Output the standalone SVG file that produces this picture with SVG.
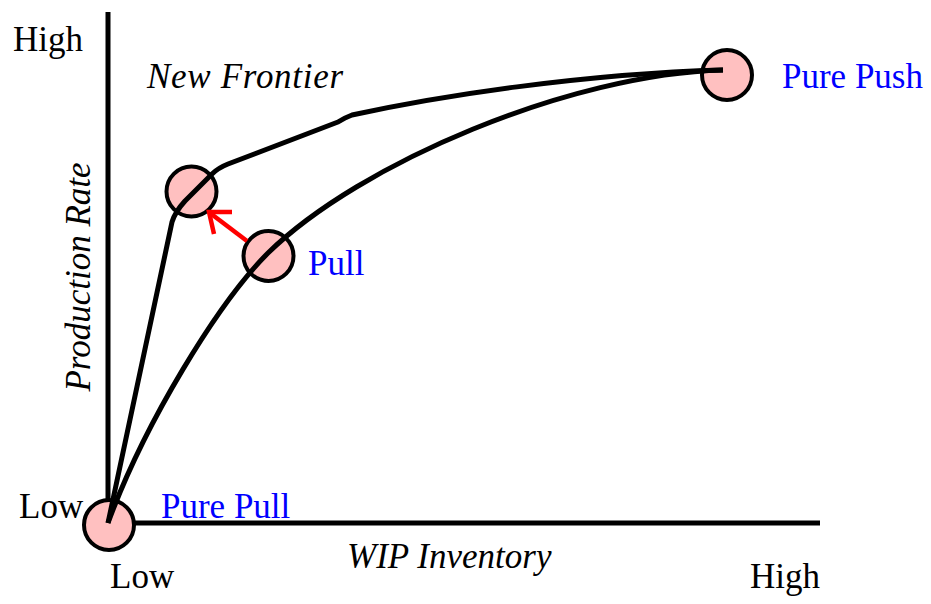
<svg xmlns="http://www.w3.org/2000/svg" width="931" height="604" viewBox="0 0 931 604">
<style>
.t{font-family:"Liberation Serif","Times New Roman",serif;font-size:35px;fill:#000}
.i{font-style:italic}
.b{fill:#0000ff}
.n{fill:#ffc0c0;stroke:#000;stroke-width:4}
.c{fill:none;stroke:#000;stroke-width:5;stroke-linejoin:round}
.ax{fill:none;stroke:#000;stroke-width:5}
</style>
<rect width="931" height="604" fill="#fff"/>
<g id="axes">
<line class="ax" x1="108" y1="12" x2="108" y2="525"/>
<line class="ax" x1="106" y1="523" x2="820" y2="523"/>
</g>
<g id="node-pure-pull"><circle class="n" cx="109" cy="525" r="25"/></g>
<g id="node-frontier"><circle class="n" cx="191.5" cy="191.5" r="25"/></g>
<g id="node-pull"><circle class="n" cx="268.5" cy="256" r="25"/></g>
<g id="node-pure-push"><circle class="n" cx="727" cy="75" r="25"/></g>
<g id="connectors">
<path class="c" d="M108,523 C144,424 218,303 268,253 C360,163 570,74 723,70"/>
<path class="c" d="M108,523 L172,222 Q175,212 185,201 L212,174 Q218,168 228,164 L338,122 Q344,118 352,115 C440,96 580,74 723,70"/>
<g fill="none" stroke="#ff0000" stroke-width="4.5">
<line x1="247" y1="241" x2="210" y2="213"/>
<polyline points="232,212 209,212 214,234"/>
</g>
</g>
<g id="labels">
<text class="t" x="13" y="51">High</text>
<text class="t i" x="147" y="88" textLength="196">New Frontier</text>
<text class="t i" transform="translate(90,277) rotate(-90)" text-anchor="middle">Production Rate</text>
<text class="t b" x="308" y="275">Pull</text>
<text class="t b" x="782" y="88">Pure Push</text>
<text class="t b" x="161" y="518">Pure Pull</text>
<text class="t" x="19" y="518">Low</text>
<text class="t" x="110" y="588">Low</text>
<text class="t i" x="347" y="568">WIP Inventory</text>
<text class="t" x="750" y="588">High</text>
</g>
</svg>
